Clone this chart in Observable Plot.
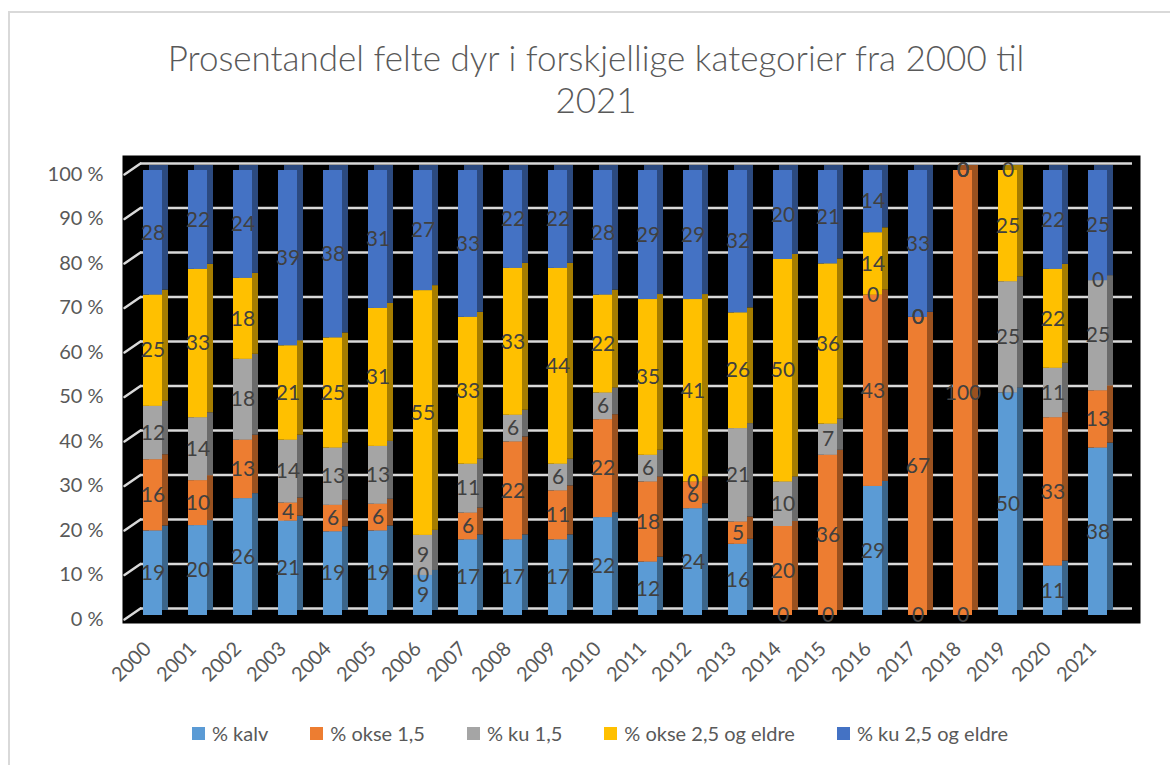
<!DOCTYPE html>
<html>
<head>
<meta charset="utf-8">
<script src="https://cdn.jsdelivr.net/npm/d3@7"></script>
<script src="https://cdn.jsdelivr.net/npm/@observablehq/plot@0.6"></script>
<style>
  html, body { margin: 0; padding: 0; background: #fff; overflow: hidden; }
  #wrap { position: relative; width: 1170px; height: 765px; overflow: hidden; font-family: Lato, "Open Sans", sans-serif; }
  #border { position: absolute; left: 8px; top: 11px; width: 1300px; height: 900px; border: 2px solid #d9d9d9; box-sizing: border-box; }
  #title { position: absolute; left: 0; top: 36px; width: 1192px; text-align: center; font-size: 35px; font-weight: 300; line-height: 42px; color: #595959; }
  #chart { position: absolute; left: 0; top: 150px; }
  #legend { position: absolute; left: 0; top: 721px; width: 1200px; display: flex; justify-content: center; gap: 42px; font-size: 20px; color: #595959; }
  #legend .item { display: flex; align-items: center; gap: 7px; }
  #legend .sw { width: 13px; height: 13px; display: inline-block; }
</style>
</head>
<body>
<div id="wrap">
  <div id="border"></div>
  <div id="title">Prosentandel felte dyr i forskjellige kategorier fra 2000 til<br>2021</div>
  <div id="chart"></div>
  <div id="legend"></div>
</div>
<script>
const years = ["2000","2001","2002","2003","2004","2005","2006","2007","2008","2009","2010","2011","2012","2013","2014","2015","2016","2017","2018","2019","2020","2021"];
const seriesNames = ["% kalv", "% okse 1,5", "% ku 1,5", "% okse 2,5 og eldre", "% ku 2,5 og eldre"];
const kalv   = [19,20,26,21,19,19, 9,17,17,17,22,12,24,16, 0, 0,29, 0,  0,50,11,38];
const okse15 = [16,10,13, 4, 6, 6, 0, 6,22,11,22,18, 6, 5,20,36,43,67,100, 0,33,13];
const ku15   = [12,14,18,14,13,13, 9,11, 6, 6, 6, 6, 0,21,10, 7, 0, 0,  0,25,11,25];
const okse25 = [25,33,18,21,25,31,55,33,33,44,22,35,41,26,50,36,14, 0,  0,25,22, 0];
const ku25   = [28,22,24,39,38,31,27,33,22,22,28,29,29,32,20,21,14,33,  0, 0,22,25];
const yTicks = [0,10,20,30,40,50,60,70,80,90,100];
const colors = ["#5B9BD5", "#ED7D31", "#A5A5A5", "#FFC000", "#4472C4"];

const seriesValues = [kalv, okse15, ku15, okse25, ku25];
const data = years.flatMap((yr, i) => seriesNames.map((s, j) => ({year: yr, series: s, value: seriesValues[j][i]})));
const tickFracs = yTicks.map(t => t / 100);

const stackOpts = (extra) => Plot.stackY({x: "year", y: "value", z: "series", offset: "normalize", ...extra});
const lineShape = { draw(context, l) { context.moveTo(0, 0); context.lineTo(0, -l); } };

const chart = Plot.plot({
  width: 1170,
  height: 550,
  marginLeft: 122,
  marginRight: 30,
  marginTop: 5,
  marginBottom: 77,
  style: { fontFamily: "Lato, 'Open Sans', sans-serif", background: "transparent", overflow: "visible" },
  x: { domain: years, paddingInner: 0.578, paddingOuter: 0, insetLeft: 21, insetRight: 33, label: null },
  y: { domain: [0, 1], insetTop: 15, insetBottom: 8, label: null },
  color: { domain: seriesNames, range: colors },
  marks: [
    Plot.frame({ fill: "black", stroke: "none" }),
    Plot.ruleY(tickFracs, { stroke: "#d9d9d9", strokeWidth: 2.5, dy: -7, insetLeft: 18, insetRight: 8 }),
    Plot.vector(tickFracs, { y: d => d, frameAnchor: "left", dx: 2, dy: 4, length: 19.4, rotate: 55.5, anchor: "start", shape: lineShape, stroke: "#d9d9d9", strokeWidth: 2.5 }),
    Plot.barY(data, stackOpts({ fill: "series", dx: 6, dy: -5 })),
    Plot.barY(data, stackOpts({ fill: "black", fillOpacity: 0.35, dx: 6, dy: -5 })),
    Plot.barY(data, stackOpts({ fill: "series" })),
    Plot.text(data, stackOpts({ text: d => String(d.value), fill: "#404040", fontSize: 21 })),
    Plot.axisY(tickFracs, { tickSize: 0, tickPadding: 19, dy: 4, fontSize: 20, color: "#595959", tickFormat: d => Math.round(d * 100) + " %", label: null }),
    Plot.axisX({ tickRotate: -45, tickSize: 0, tickPadding: 22, dx: -5, fontSize: 20, color: "#595959", label: null })
  ]
});
document.getElementById("chart").appendChild(chart);

const legend = document.getElementById("legend");
seriesNames.forEach((s, i) => {
  const item = document.createElement("div");
  item.className = "item";
  const sw = document.createElement("span");
  sw.className = "sw";
  sw.style.background = colors[i];
  const label = document.createElement("span");
  label.textContent = s;
  item.appendChild(sw);
  item.appendChild(label);
  legend.appendChild(item);
});
</script>
</body>
</html>
